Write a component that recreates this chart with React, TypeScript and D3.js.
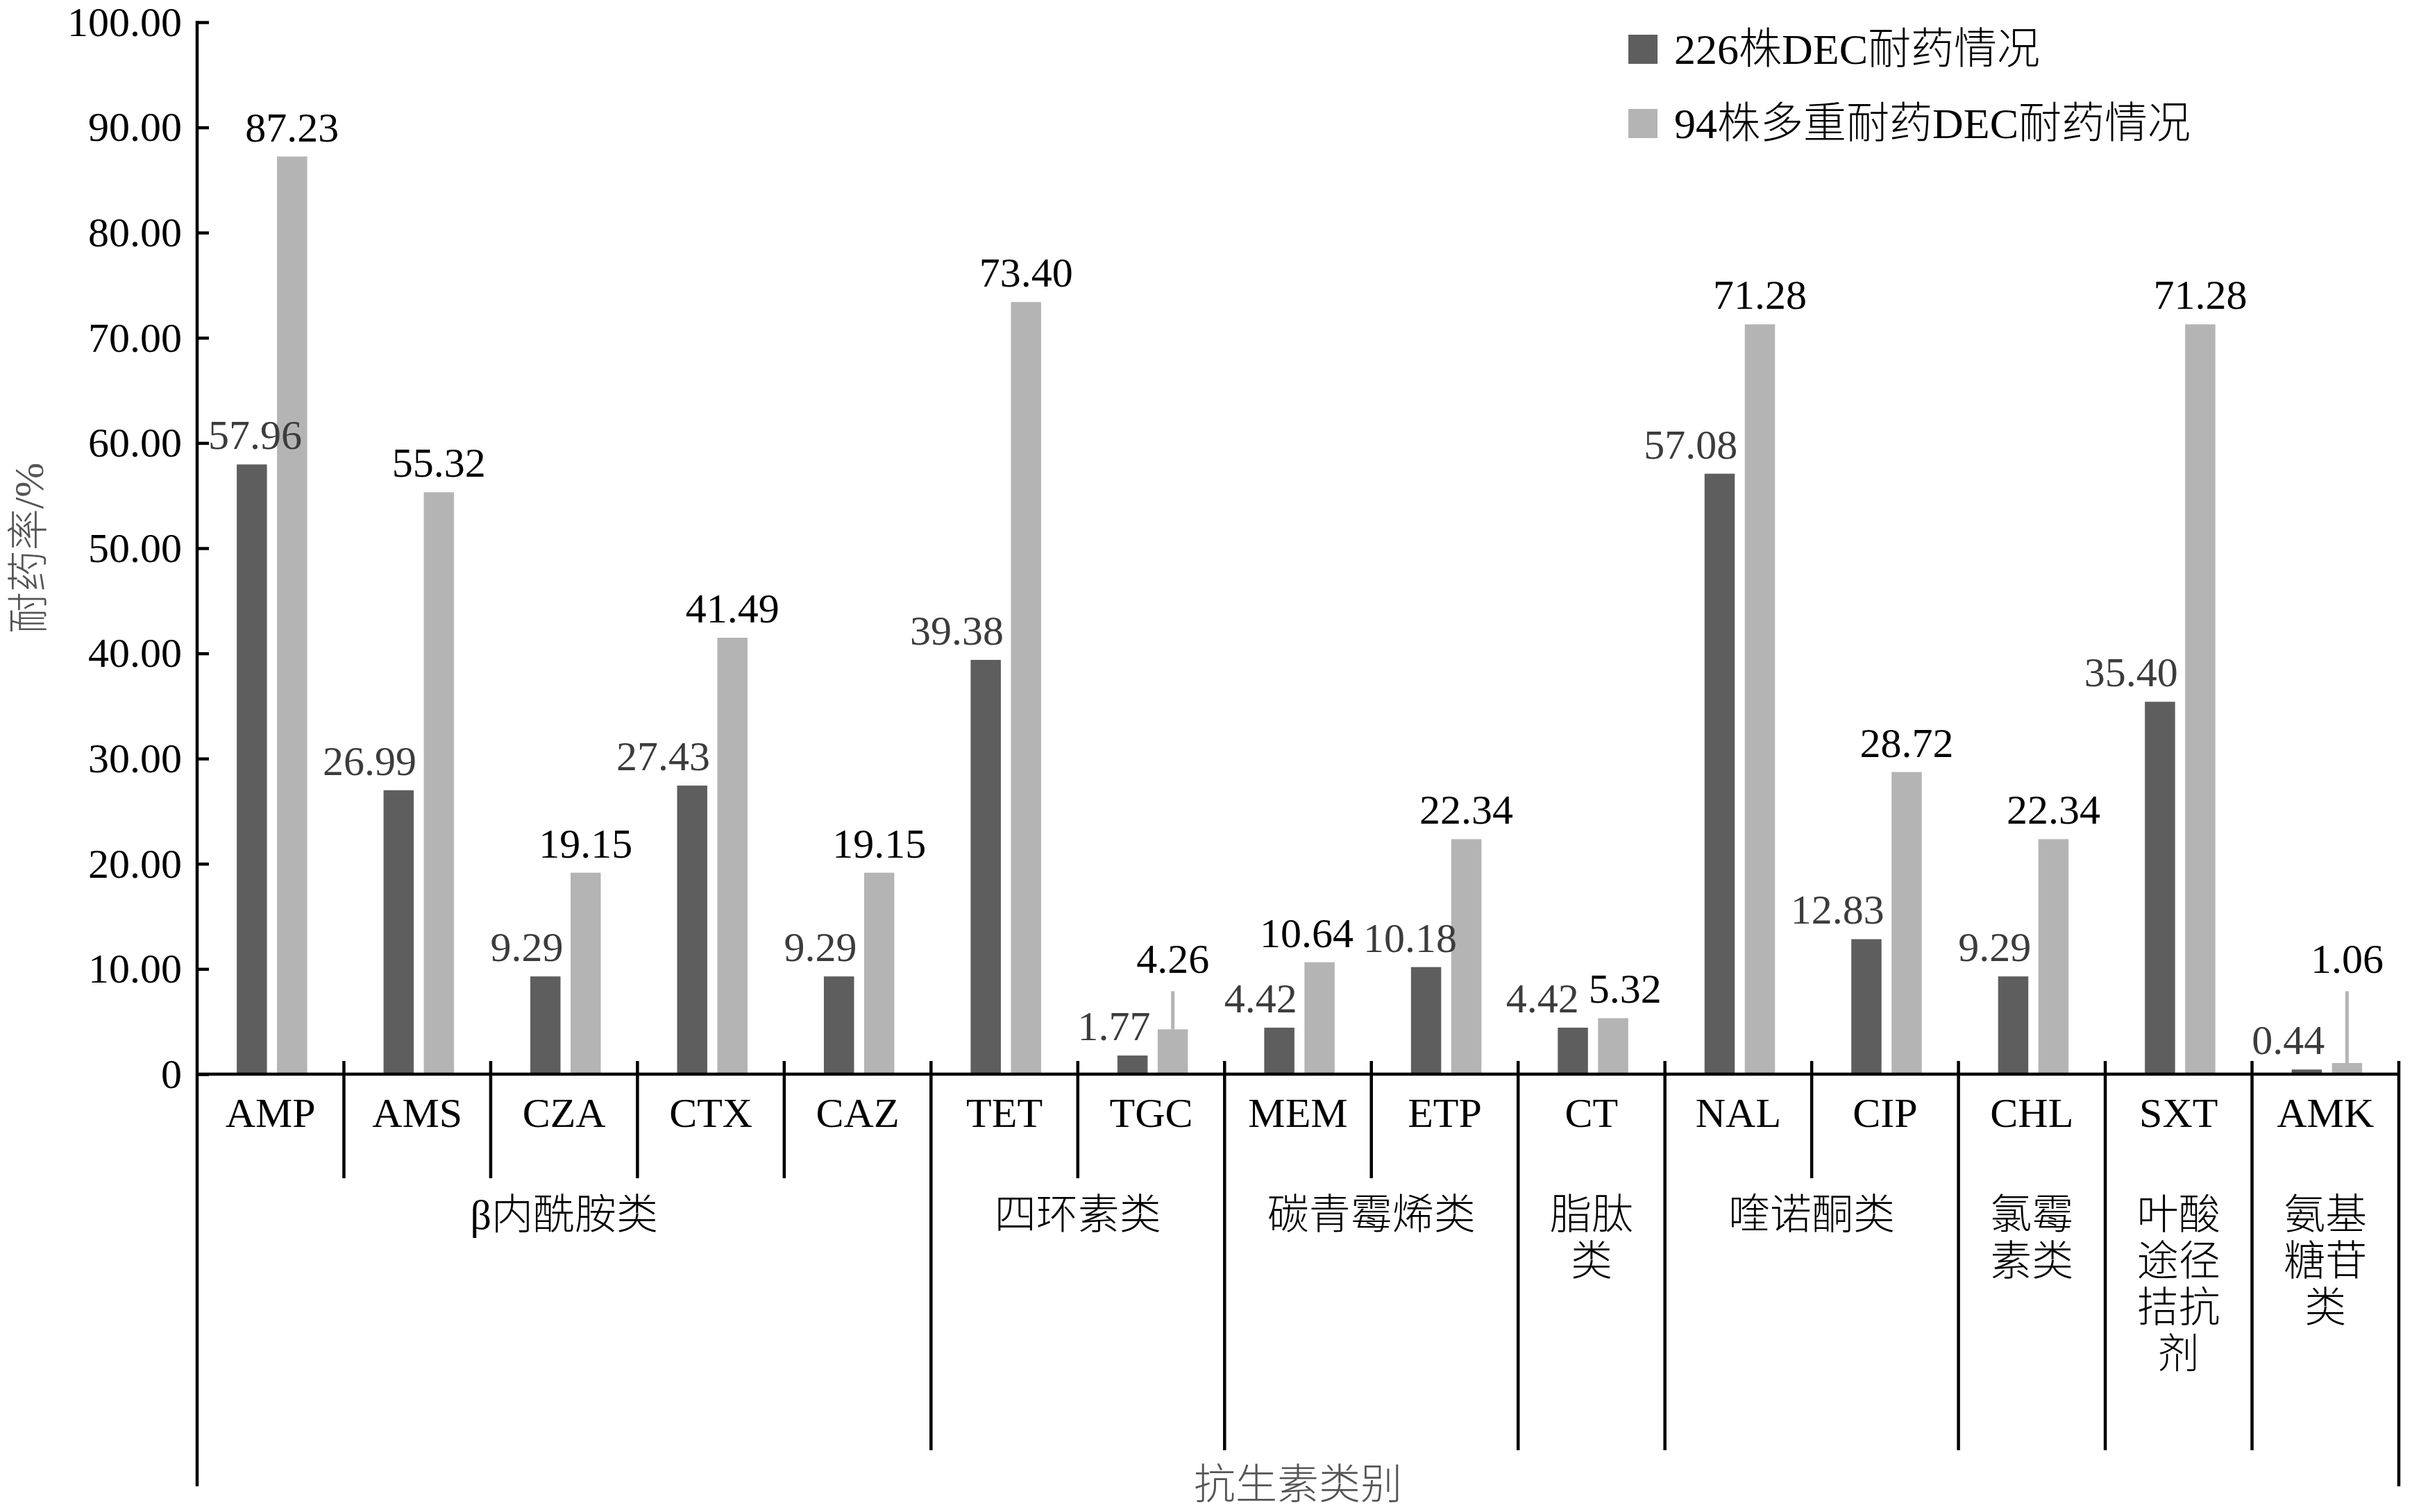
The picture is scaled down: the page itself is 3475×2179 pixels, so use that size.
import { useEffect, useRef } from 'react'
import * as d3 from 'd3'

const categories = ['AMP', 'AMS', 'CZA', 'CTX', 'CAZ', 'TET', 'TGC', 'MEM', 'ETP', 'CT', 'NAL', 'CIP', 'CHL', 'SXT', 'AMK']
const dec226 = [57.96, 26.99, 9.29, 27.43, 9.29, 39.38, 1.77, 4.42, 10.18, 4.42, 57.08, 12.83, 9.29, 35.40, 0.44]
const mdr94 = [87.23, 55.32, 19.15, 41.49, 19.15, 73.40, 4.26, 10.64, 22.34, 5.32, 71.28, 28.72, 22.34, 71.28, 1.06]

const groupLabels = [['β内酰胺类'], ['四环素类'], ['碳青霉烯类'], ['脂肽', '类'], ['喹诺酮类'], ['氯霉', '素类'], ['叶酸', '途径', '拮抗', '剂'], ['氨基', '糖苷', '类']]
const groupSizes = [5, 2, 2, 1, 2, 1, 1, 1]

const seriesNames = ['226株DEC耐药情况', '94株多重耐药DEC耐药情况']
const yTicks = [0, 10, 20, 30, 40, 50, 60, 70, 80, 90, 100]

// light bars whose labels sit higher with a thin leader line
const leaderCats = ['TGC', 'AMK']

type Box = { node: SVGTextElement | null; x0: number; x1: number; y0: number; y1: number; dx: number }

export default function App() {
  const svgRef = useRef<SVGSVGElement | null>(null)

  useEffect(() => {
    if (!svgRef.current) return
    const svg = d3.select(svgRef.current)
    svg.selectAll('*').remove()

    const width = 3475
    const height = 2179
    const left = 284
    const right = 3456
    const top = 32
    const bottom = 1548
    const serif = "'Liberation Serif', 'Times New Roman', 'Noto Sans CJK SC', serif"
    const colors = ['#5e5e5e', '#b4b4b4']
    const lw = 4.5

    svg.attr('width', width).attr('height', height)

    const x = d3.scaleBand<string>().domain(categories).range([left, right])
    const bw = x.bandwidth()
    const x1 = d3.scaleBand<string>().domain(['a', 'b']).range([0.27 * bw, 0.75 * bw]).paddingInner(0.25)
    const y = d3.scaleLinear().domain([0, 100]).range([bottom, top])

    const data = categories.map((c, i) => ({ c, a: dec226[i], b: mdr94[i] }))

    // bars
    const g = svg.append('g')
    g.selectAll('rect.a').data(data).enter().append('rect')
      .attr('x', d => x(d.c)! + x1('a')!)
      .attr('y', d => y(d.a))
      .attr('width', x1.bandwidth())
      .attr('height', d => bottom - y(d.a))
      .attr('fill', colors[0])
    g.selectAll('rect.b').data(data).enter().append('rect')
      .attr('x', d => x(d.c)! + x1('b')!)
      .attr('y', d => y(d.b))
      .attr('width', x1.bandwidth())
      .attr('height', d => bottom - y(d.b))
      .attr('fill', colors[1])

    // leader lines
    const leaderY = y(9.6)
    g.selectAll('line.leader').data(data.filter(d => leaderCats.includes(d.c))).enter().append('line')
      .attr('x1', d => x(d.c)! + x1('b')! + x1.bandwidth() / 2)
      .attr('x2', d => x(d.c)! + x1('b')! + x1.bandwidth() / 2)
      .attr('y1', d => y(d.b))
      .attr('y2', leaderY + 26)
      .attr('stroke', colors[1])
      .attr('stroke-width', 5)

    // y axis
    const yAxis = svg.append('g')
      .attr('transform', `translate(${left},0)`)
      .call(d3.axisLeft(y).tickValues(yTicks).tickSize(-17).tickSizeOuter(0).tickPadding(22)
        .tickFormat(d => (+d === 0 ? '0' : (+d).toFixed(2))))
    yAxis.select('.domain').remove()
    yAxis.selectAll('line').attr('stroke', '#000').attr('stroke-width', lw)
    yAxis.selectAll('text').style('font-family', serif).style('font-size', '60px').style('fill', '#000')

    // value labels
    const la = g.selectAll('text.la').data(data).enter().append('text')
      .attr('x', d => x(d.c)! + x1('a')! + x1.bandwidth() + 4)
      .attr('y', d => y(d.a) - 22)
      .attr('text-anchor', 'end')
      .style('font-family', serif)
      .style('font-size', '60px')
      .style('fill', '#3c3c3c')
      .text(d => d.a.toFixed(2))
    const lb = g.selectAll('text.lb').data(data).enter().append('text')
      .attr('x', d => x(d.c)! + x1('b')! + x1.bandwidth() / 2)
      .attr('y', d => (leaderCats.includes(d.c) ? leaderY : y(d.b) - 22))
      .attr('text-anchor', 'middle')
      .style('font-family', serif)
      .style('font-size', '60px')
      .style('fill', '#000')
      .text(d => d.b.toFixed(2))

    // push overlapping value labels apart sideways
    const toBox = (n: SVGTextElement, movable: boolean): Box => {
      const r = n.getBoundingClientRect()
      return { node: movable ? n : null, x0: r.left, x1: r.right, y0: r.top + 10, y1: r.bottom - 10, dx: 0 }
    }
    const moving: Box[] = [...(la.nodes() as SVGTextElement[]), ...(lb.nodes() as SVGTextElement[])].map(n => toBox(n, true))
    const fixed: Box[] = (yAxis.selectAll('text').nodes() as SVGTextElement[]).map(n => toBox(n, false))
    const gap = 14
    const axisGap = 38
    const hit = (a: Box, b: Box, gp: number) =>
      a.x0 + a.dx < b.x1 + b.dx + gp && b.x0 + b.dx < a.x1 + a.dx + gp && a.y0 < b.y1 && b.y0 < a.y1
    for (let it = 0; it < 30; it++) {
      let moved = false
      for (let i = 0; i < moving.length; i++) {
        const a = moving[i]
        for (const f of fixed) {
          if (hit(a, f, axisGap)) { a.dx += f.x1 + axisGap - (a.x0 + a.dx); moved = true }
        }
        for (let j = i + 1; j < moving.length; j++) {
          const b = moving[j]
          if (!hit(a, b, gap)) continue
          const [l, r] = (a.x0 + a.x1) / 2 + a.dx <= (b.x0 + b.x1) / 2 + b.dx ? [a, b] : [b, a]
          const ov = l.x1 + l.dx + gap - (r.x0 + r.dx)
          l.dx -= ov / 2
          r.dx += ov / 2
          moved = true
        }
      }
      if (!moved) break
    }
    moving.forEach(b => { if (b.dx) d3.select(b.node).attr('transform', `translate(${b.dx},0)`) })

    const lines = svg.append('g').attr('stroke', '#000').attr('stroke-width', lw)
    lines.append('line').attr('x1', left).attr('x2', left).attr('y1', top - 2).attr('y2', 2142)
    lines.append('line').attr('x1', left).attr('x2', right).attr('y1', bottom).attr('y2', bottom)

    // category separators
    const groupEnds: number[] = []
    groupSizes.reduce((acc, n) => { groupEnds.push(acc + n); return acc + n }, 0)
    const seps = d3.range(1, categories.length + 1)
    lines.selectAll('line.sep').data(seps).enter().append('line')
      .attr('x1', i => (i === categories.length ? right : x(categories[i])!))
      .attr('x2', i => (i === categories.length ? right : x(categories[i])!))
      .attr('y1', bottom - 19)
      .attr('y2', i => (i === categories.length ? 2142 : groupEnds.includes(i) ? 2090 : 1698))

    // category labels
    svg.append('g').selectAll('text').data(categories).enter().append('text')
      .attr('x', c => x(c)! + bw / 2)
      .attr('y', 1604)
      .attr('text-anchor', 'middle')
      .attr('dominant-baseline', 'central')
      .style('font-family', serif)
      .style('font-size', '60px')
      .text(c => c)

    // group labels
    let start = 0
    const gl = svg.append('g')
    groupLabels.forEach((linesText, gi) => {
      const s = start
      const e = start + groupSizes[gi]
      start = e
      const cx = (x(categories[s])! + (e === categories.length ? right : x(categories[e])!)) / 2
      linesText.forEach((t, li) => {
        gl.append('text')
          .attr('x', cx)
          .attr('y', 1751 + li * 67)
          .attr('text-anchor', 'middle')
          .attr('dominant-baseline', 'central')
          .style('font-family', serif)
          .style('font-size', '60px')
          .style('font-weight', 300)
          .text(t)
      })
    })

    // axis titles
    svg.append('text')
      .attr('transform', `translate(42,790) rotate(-90)`)
      .attr('text-anchor', 'middle')
      .attr('dominant-baseline', 'central')
      .style('font-family', serif)
      .style('font-size', '60px')
      .style('font-weight', 300)
      .style('fill', '#555')
      .text('耐药率/%')
    svg.append('text')
      .attr('x', (left + right) / 2)
      .attr('y', 2140)
      .attr('text-anchor', 'middle')
      .attr('dominant-baseline', 'central')
      .style('font-family', serif)
      .style('font-size', '60px')
      .style('font-weight', 300)
      .style('fill', '#555')
      .text('抗生素类别')

    // legend
    const leg = svg.append('g').selectAll('g').data(seriesNames).enter().append('g')
      .attr('transform', (_, i) => `translate(2346,${50 + i * 107})`)
    leg.append('rect').attr('width', 42).attr('height', 42).attr('fill', (_, i) => colors[i])
    leg.append('text')
      .attr('x', 66)
      .attr('y', 21)
      .attr('dominant-baseline', 'central')
      .style('font-family', serif)
      .style('font-size', '62px')
      .style('font-weight', 300)
      .text(d => d)
  }, [])

  return (
    <svg ref={svgRef} style={{ position: 'absolute', left: 0, top: 0, display: 'block', background: '#fff' }}></svg>
  )
}
